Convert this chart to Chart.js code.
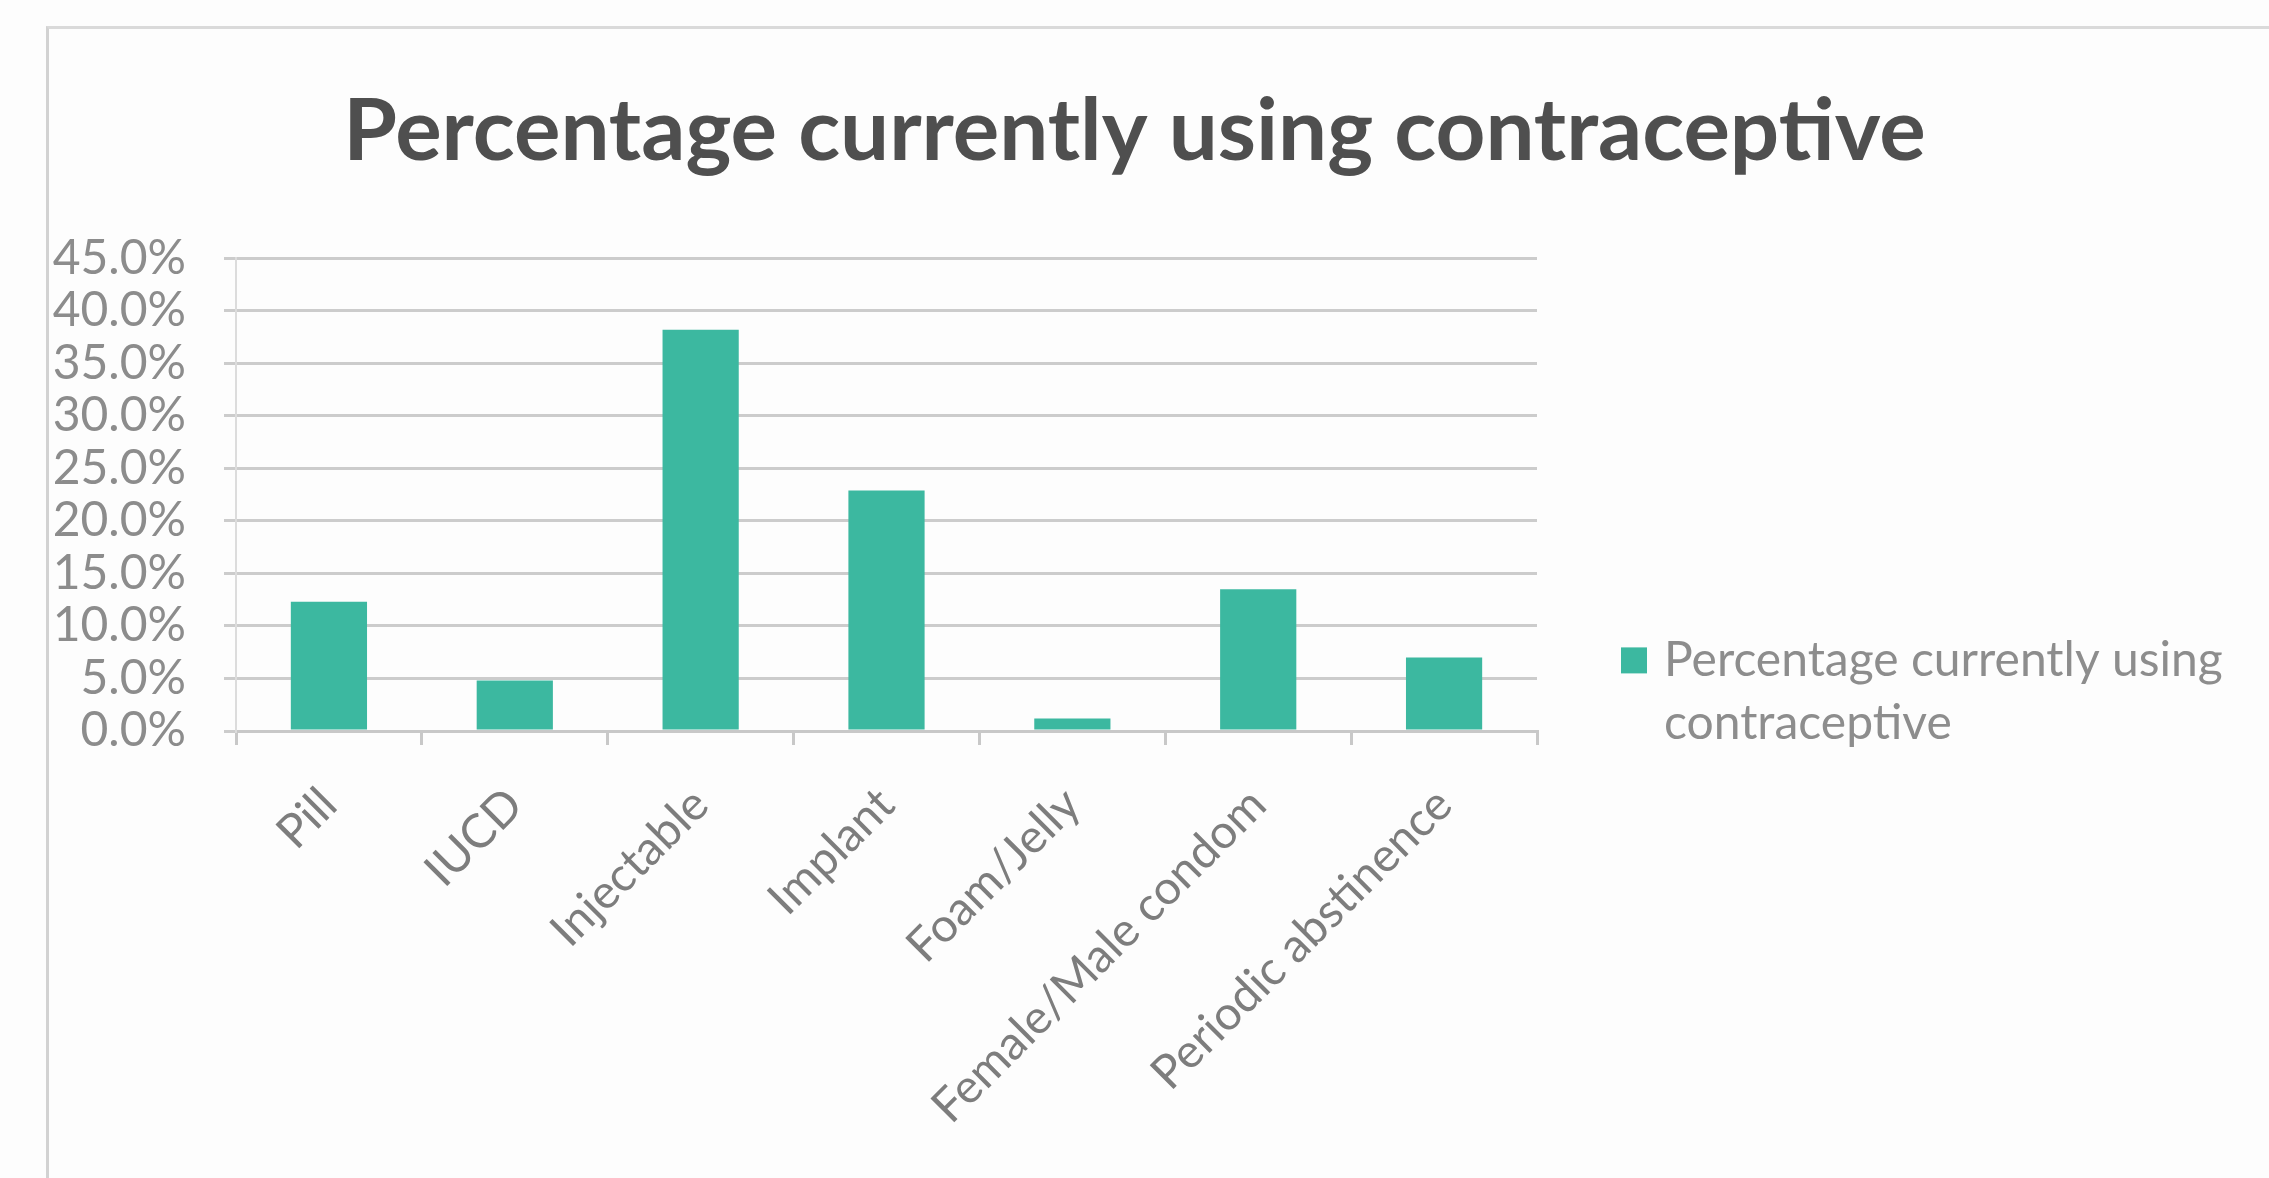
<!DOCTYPE html>
<html lang="en">
<head>
  <meta charset="UTF-8" />
  <title>Percentage currently using contraceptive</title>
  <script src="https://cdn.jsdelivr.net/npm/chart.js"></script>
  <style>
    body {
      margin: 0; padding: 0;
      background-color: #fdfdfd;
      font-family: Lato, sans-serif;
    }
    .frame {
      position: absolute;
      left: 46px; top: 26px;
      width: 2223px; height: 1152px;
      border-left: 3px solid #d2d2d2;
      border-top: 3px solid #dadada;
    }
    .wrap {
      position: absolute;
      left: 0; top: 0;
      width: 2269px; height: 1178px;
    }
  </style>
</head>
<body>
  <div class="frame"></div>
  <div class="wrap"><canvas id="chartCanvas"></canvas></div>

  <script>
    const TITLE = "Percentage currently using contraceptive";
    const SERIES_NAME = "Percentage currently using contraceptive";
    const LEGEND_LINES = ["Percentage currently using", "contraceptive"];
    const CATEGORIES = ["Pill", "IUCD", "Injectable", "Implant", "Foam/Jelly", "Female/Male condom", "Periodic abstinence"];
    const VALUES = [12.3, 4.8, 38.2, 22.9, 1.2, 13.5, 7.0];
    const Y_MIN = 0, Y_MAX = 45, Y_STEP = 5;

    const BAR_COLOR = "#3cb8a0";

    // legend drawn at the right, next to the plot (two lines like the original)
    const sideLegend = {
      id: "sideLegend",
      afterDraw(chart) {
        const ctx = chart.ctx;
        const area = chart.chartArea;
        const ds = chart.data.datasets[0];
        const x = area.right + 84;
        const y = area.top + 402;
        ctx.save();
        ctx.fillStyle = ds.backgroundColor;
        ctx.fillRect(x, y - 13, 26, 26);
        ctx.fillStyle = "#8d8d8d";
        ctx.font = "48px Lato";
        ctx.textBaseline = "middle";
        ctx.textAlign = "left";
        LEGEND_LINES.forEach((line, i) => {
          ctx.fillText(line, x + 43, y + i * 63);
        });
        ctx.restore();
      }
    };

    new Chart(document.getElementById("chartCanvas"), {
      type: "bar",
      data: {
        labels: CATEGORIES,
        datasets: [{
          label: SERIES_NAME,
          data: VALUES,
          backgroundColor: BAR_COLOR,
          barPercentage: 0.41,
          categoryPercentage: 1.0,
          yAxisID: "y"
        }]
      },
      options: {
        responsive: true,
        maintainAspectRatio: false,
        animation: false,
        layout: { padding: 0 },
        plugins: {
          legend: { display: false },
          tooltip: { enabled: false },
          title: {
            display: true,
            text: TITLE,
            color: "#4f4f4f",
            font: { family: "Lato", size: 87, weight: "bold", lineHeight: 1.2 },
            padding: { top: 80, bottom: 74 }
          }
        },
        scales: {
          x: {
            grid: {
              offset: true,
              drawOnChartArea: false,
              drawTicks: true,
              tickLength: 14,
              color: "#c8c8c8",
              lineWidth: 3
            },
            border: { display: true, color: "#c8c8c8", width: 3 },
            ticks: {
              color: "#7d7d7d",
              font: { family: "Lato", size: 47 },
              minRotation: 45,
              maxRotation: 45,
              autoSkip: false,
              padding: 32
            },
            afterFit(scale) { scale.height = 447; }
          },
          y: {
            min: Y_MIN,
            max: Y_MAX,
            grid: {
              color: "#cccccc",
              lineWidth: 3,
              drawTicks: true,
              tickLength: 12
            },
            border: { display: true, color: "#dcdcdc", width: 2 },
            ticks: {
              stepSize: Y_STEP,
              autoSkip: false,
              color: "#8c8c8c",
              font: { family: "Lato", size: 48 },
              padding: 38,
              callback: v => v.toFixed(1) + "%"
            },
            afterFit(scale) { scale.width = 236; }
          },
          y2: {
            position: "right",
            display: true,
            grid: { display: false },
            border: { display: false },
            ticks: { display: false },
            afterFit(scale) { scale.width = 732; }
          }
        }
      },
      plugins: [sideLegend]
    });
  </script>
</body>
</html>
